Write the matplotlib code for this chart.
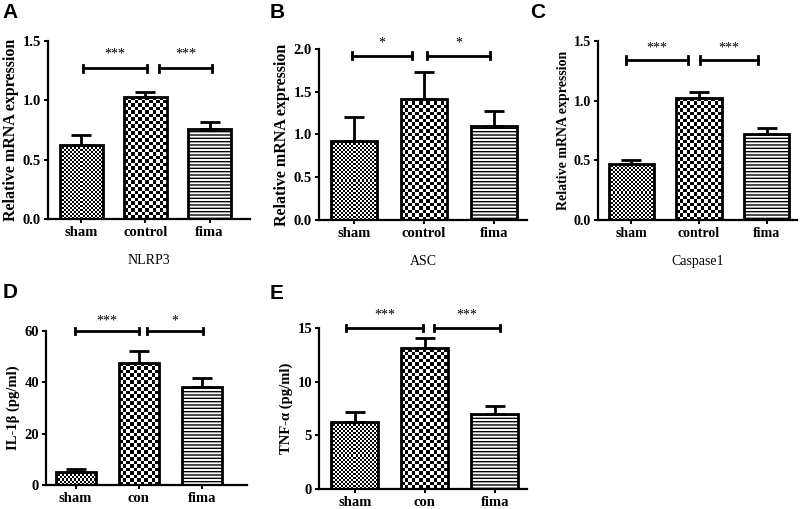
import numpy as np
import matplotlib
matplotlib.use("Agg")
import matplotlib.pyplot as plt

plt.rcParams['font.family'] = ['Liberation Serif', 'DejaVu Serif']
plt.rcParams['hatch.linewidth'] = 1.0

# data
groups_abc = ["sham", "control", "fima"]
groups_de = ["sham", "con", "fima"]

nlrp3 = [0.62, 1.03, 0.76]
nlrp3_err = [0.09, 0.04, 0.06]
asc = [0.92, 1.42, 1.10]
asc_err = [0.29, 0.31, 0.18]
casp1 = [0.47, 1.02, 0.72]
casp1_err = [0.03, 0.05, 0.05]
il1b = [5.0, 47.5, 38.0]
il1b_err = [1.2, 4.5, 3.8]
tnfa = [6.2, 13.1, 7.0]
tnfa_err = [1.0, 1.0, 0.7]

sig_abc = [["***", "***"], ["*", "*"], ["***", "***"]]
sig_de = [["***", "*"], ["***", "***"]]

fig = plt.figure(figsize=(8, 5.09), dpi=100)


def checker(ax, bar, cell):
    x0, y0 = bar.get_xy()
    w, h = bar.get_width(), bar.get_height()
    p0 = ax.transData.transform((x0, y0))
    p1 = ax.transData.transform((x0 + w, y0 + h))
    nx = max(1, int(round((p1[0] - p0[0]) / cell)))
    ny = max(1, int(round((p1[1] - p0[1]) / cell)))
    img = np.add.outer(np.arange(ny), np.arange(nx)) % 2
    im = ax.imshow(img, cmap="gray", extent=(x0, x0 + w, y0, y0 + h),
                   interpolation="nearest", aspect="auto", zorder=2)
    im.set_clip_path(bar)


def panel(rect, vals, errs, labels, ylim, yticks, ylabel, xlabel, xlim,
          width, brackets, bary, stars, stary, letter, letterpos,
          yfs=11.5, tfs=10.5):
    ax = fig.add_axes(rect)
    x = np.arange(3)
    ax.set_xlim(*xlim)
    ax.set_ylim(*ylim)
    bars = ax.bar(x, vals, width, color="white", edgecolor="black",
                  linewidth=0, zorder=1, hatch=[None, None, "-----"])
    for b, cell in zip(bars[:2], [2, 3.5]):
        checker(ax, b, cell)
    ax.bar(x, vals, width, fill=False, edgecolor="black", linewidth=2, zorder=3)
    ax.errorbar(x, vals, yerr=[[0, 0, 0], errs], fmt="none", ecolor="black",
                elinewidth=2, capsize=7.5, capthick=2, zorder=4)
    ax.set_xlim(*xlim)
    ax.set_ylim(*ylim)
    ax.set_yticks(yticks)
    ax.set_xticks(x)
    ax.set_xticklabels(labels, fontweight="bold", fontsize=tfs)
    for t in ax.get_yticklabels():
        t.set_fontweight("bold")
        t.set_fontsize(tfs)
    ax.spines["top"].set_visible(False)
    ax.spines["right"].set_visible(False)
    ax.spines["left"].set_linewidth(1.6)
    ax.spines["bottom"].set_linewidth(1.6)
    ax.tick_params(width=1.4, length=3, pad=2)
    ax.set_ylabel(ylabel, fontweight="bold", fontsize=yfs, labelpad=3)
    if xlabel:
        ax.set_xlabel(xlabel, fontsize=10, labelpad=11)
    dy = (ylim[1] - ylim[0]) * 0.02
    for (a, b), s in zip(brackets, stars):
        ax.plot([a, b], [bary, bary], color="black", lw=2, clip_on=False, zorder=5)
        for e in (a, b):
            ax.plot([e, e], [bary - dy, bary + dy], color="black", lw=2,
                    clip_on=False, zorder=5)
        ax.text((a + b) / 2, stary, s, ha="center", va="center", fontsize=10,
                clip_on=False)
    fig.text(letterpos[0], letterpos[1], letter, family="Liberation Sans",
             fontweight="bold", fontsize=15, ha="left", va="center")
    return ax


panel([0.060, 0.5697, 0.2525, 0.3497], nlrp3, nlrp3_err, groups_abc,
      (0, 1.5), [0.0, 0.5, 1.0, 1.5], "Relative mRNA expression", "NLRP3",
      (-0.52, 2.63), 0.67, [(0.02, 1.02), (1.21, 2.04)], 1.27,
      sig_abc[0], 1.39, "A", (0.003, 0.975))

panel([0.39875, 0.5678, 0.26, 0.336], asc, asc_err, groups_abc,
      (0, 2.0), [0.0, 0.5, 1.0, 1.5, 2.0], "Relative mRNA expression", "ASC",
      (-0.5, 2.47), 0.66, [(-0.03, 0.83), (1.04, 1.94)], 1.92,
      sig_abc[1], 2.07, "B", (0.337, 0.975))

panel([0.7475, 0.5678, 0.249, 0.3517], casp1, casp1_err, groups_abc,
      (0, 1.5), [0.0, 0.5, 1.0, 1.5], "Relative mRNA expression", "Caspase1",
      (-0.49, 2.45), 0.67, [(-0.07, 0.84), (1.01, 1.87)], 1.34,
      sig_abc[2], 1.44, "C", (0.663, 0.975), yfs=10, tfs=10)

panel([0.0575, 0.0472, 0.251, 0.3026], il1b, il1b_err, groups_de,
      (0, 60), [0, 20, 40, 60], "IL-1\u03b2 (pg/ml)", None,
      (-0.47, 2.71), 0.63, [(-0.01, 1.0), (1.13, 2.02)], 60,
      sig_de[0], 64, "D", (0.003, 0.426), yfs=10.5)

panel([0.39875, 0.0393, 0.26, 0.3163], tnfa, tnfa_err, groups_de,
      (0, 15), [0, 5, 10, 15], "TNF-\u03b1 (pg/ml)", None,
      (-0.51, 2.46), 0.67, [(-0.13, 0.98), (1.13, 2.07)], 15,
      sig_de[1], 16.2, "E", (0.337, 0.424), yfs=10.5)

fig.savefig("out.png", dpi=100)
